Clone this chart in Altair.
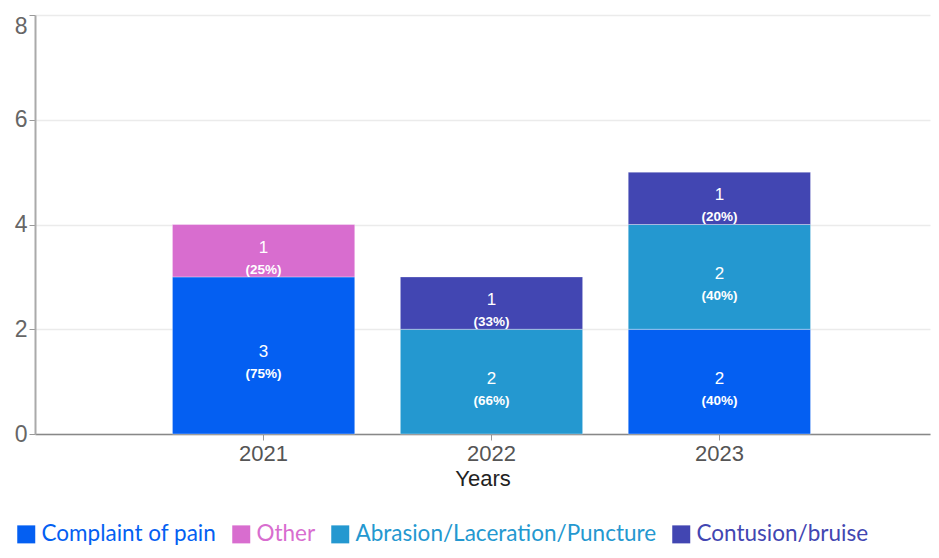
import altair as alt
import pandas as pd

years = ["2021", "2021", "2022", "2022", "2023", "2023", "2023"]
categories = ["Complaint of pain", "Other",
              "Abrasion/Laceration/Puncture", "Contusion/bruise",
              "Complaint of pain", "Abrasion/Laceration/Puncture", "Contusion/bruise"]
counts = [3, 1, 2, 1, 2, 2, 1]
percents = ["(75%)", "(25%)", "(66%)", "(33%)", "(40%)", "(40%)", "(20%)"]

legend_order = ["Complaint of pain", "Other", "Abrasion/Laceration/Puncture", "Contusion/bruise"]
colors = ["#045ff2", "#d86dcf", "#2498d0", "#4246b2"]

df = pd.DataFrame({"Year": years, "Category": categories, "Count": counts, "Pct": percents})
df["order"] = df["Category"].map({c: i for i, c in enumerate(legend_order)})

color_scale = alt.Scale(domain=legend_order, range=colors)
x_enc = alt.X("Year:N",
              title="Years",
              scale=alt.Scale(paddingInner=0.2, paddingOuter=0.5636, align=0.535),
              axis=alt.Axis(labelAngle=0, labelFont="Liberation Sans", labelFontSize=22,
                            labelColor="#555555", labelPadding=3, tickColor="#999999",
                            tickSize=6, domainColor="#888888", domainWidth=1.5,
                            titleFont="Liberation Sans", titleFontSize=22,
                            titleFontWeight="normal", titleColor="#222222", titlePadding=4))

base = alt.Chart(df).transform_stack(
    stack="Count", groupby=["Year"], as_=["y0", "y1"],
    sort=[alt.SortField("order", order="ascending")]
).transform_calculate(mid="(datum.y0 + datum.y1) / 2")

bars = base.mark_bar(stroke="#ffffff", strokeOpacity=0.35, strokeWidth=1).encode(
    x=x_enc,
    y=alt.Y("y0:Q", title=None,
            scale=alt.Scale(domain=[0, 8], nice=False),
            axis=alt.Axis(values=[0, 2, 4, 6, 8], labelFont="Liberation Sans",
                          labelFontSize=23, labelColor="#666666", gridColor="#ebebeb",
                          gridWidth=1.5, domainColor="#aaaaaa", domainWidth=2,
                          tickColor="#999999", tickSize=6, labelPadding=2,
                          labelBaseline={"condition": {"test": "datum.value >= 8", "value": "top"},
                                         "value": "middle"})),
    y2="y1:Q",
    color=alt.Color("Category:N", scale=color_scale, title=None,
                    legend=alt.Legend(orient="none", direction="horizontal",
                                      legendX=-20, legendY=508,
                                      symbolType="square", symbolSize=324,
                                      symbolStrokeWidth=0, symbolOpacity=1,
                                      labelFont="Lato", labelFontSize=22.5,
                                      labelLimit=500,
                                      labelColor=alt.ExprRef("scale('color', datum.value)"),
                                      labelOffset=4, columnPadding=13,
                                      symbolOffset=0)),
)

count_text = base.mark_text(color="white", font="Liberation Sans", fontSize=17, dy=-3).encode(
    x=alt.X("Year:N"),
    y=alt.Y("mid:Q"),
    text=alt.Text("Count:Q"),
)

pct_text = base.mark_text(color="white", font="Liberation Sans", fontSize=13.5,
                          fontWeight="bold", dy=19).encode(
    x=alt.X("Year:N"),
    y=alt.Y("mid:Q"),
    text=alt.Text("Pct:N"),
)

chart = alt.layer(bars, count_text, pct_text).properties(
    width=895, height=419,
    autosize=alt.AutoSizeParams(type="none"),
    padding={"left": 27, "top": 7, "right": 1, "bottom": 115},
).configure_view(stroke=None)

chart.save("out.html", embed_options={"renderer": "svg", "actions": False})
